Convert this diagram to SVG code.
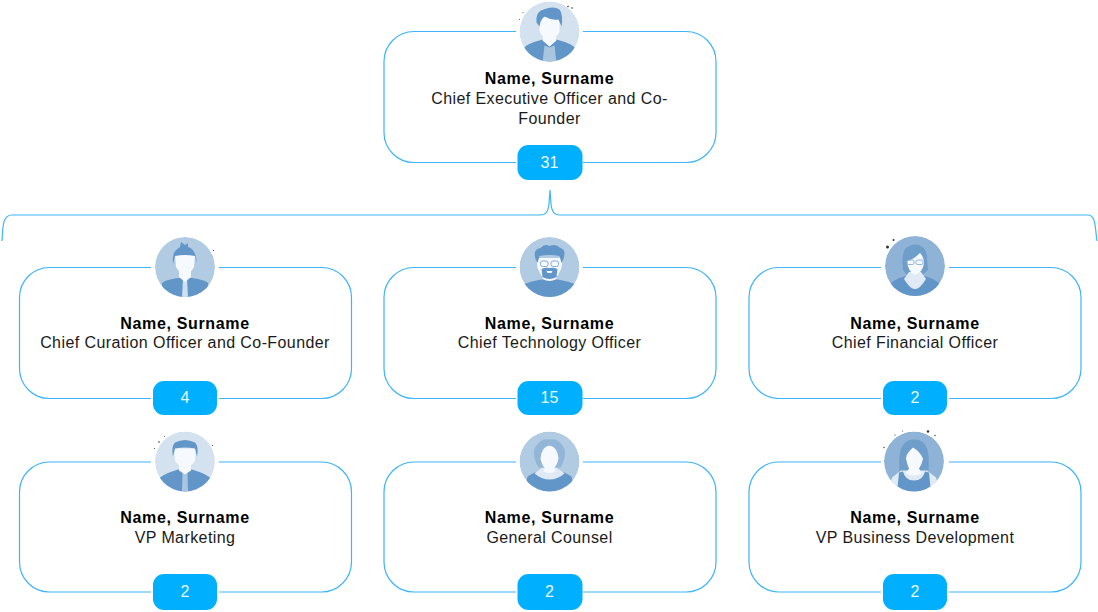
<svg xmlns="http://www.w3.org/2000/svg" width="1098" height="612" viewBox="0 0 1098 612">
<style>
.card{fill:#fff;stroke:#3db4fb;stroke-width:1.2}
.conn{fill:none;stroke:#3db4fb;stroke-width:1.2}
.pill{fill:#00b0ff}
.halo{fill:#fff}
text{font-family:"Liberation Sans",Arial,sans-serif;font-size:16px;text-anchor:middle;fill:#1a1a1a;letter-spacing:.41px}
.name{font-weight:700;fill:#000;letter-spacing:.65px}
.num{fill:#e8f7ff;letter-spacing:0}
.d{fill:#6296c8}
.s{fill:#dfeaf5}
.f{fill:#f6f9fd}
.sp{fill:#333}
</style>
<defs>
<clipPath id="cc"><circle r="30"/></clipPath>
</defs>
<g id="connectors">
<path class="conn" d="M2 241 C3 228 2 215 12 215 L540 215 C546 215 548 212 549 204 L550 190 L551 204 C552 212 554 215 560 215 L1088 215 C1096 215 1095 228 1097 241"/>
</g>
<g id="node-ceo">
<rect class="card" x="384" y="31.500" width="332" height="131" rx="30"/>
<rect class="halo" x="516" y="20" width="67" height="20"/>
<rect class="halo" x="516" y="155" width="67" height="15"/>
<g transform="translate(549.500 31.500)" clip-path="url(#cc)">
<circle r="30" fill="#d4e2f0"/>
<path class="d" d="M-26 31 L-25 16 Q-22 12 -7 8 L0 15 L7 8 Q22 12 25 16 L26 31Z"/>
<path d="M-5 14 L0 16 L5 14 L7 31 L-7 31Z" fill="#a9c5e0"/>
<path class="f" d="M-6 0 L6 0 L7 9 L0 15 L-7 9Z"/>
<path class="f" d="M-10 -14 L10 -14 L10 0 Q7 7 0 8 Q-7 7 -10 0Z"/>
<path class="d" d="M-13 -9 Q-14 -20 -6 -22 Q4 -26 10 -22 Q14 -17 12 -5 L9 -12 Q2 -11 -5 -15 Q-9 -12 -10 -5Z"/>
</g>
<circle class="sp" cx="572" cy="8" r=".8"/><circle class="sp" cx="568" cy="6.500" r=".8"/><circle class="sp" cx="523" cy="12.500" r=".5"/><circle class="sp" cx="519.500" cy="19.500" r=".5"/>
<text class="name" x="549.500" y="84">Name, Surname</text>
<text x="549.500" y="104">Chief Executive Officer and Co-</text>
<text x="549.500" y="123.500">Founder</text>
<rect class="pill" x="517.500" y="145" width="65" height="35" rx="11"/>
<text class="num" x="549.500" y="167.500">31</text>
</g>
<g id="node-curation">
<rect class="card" x="19.500" y="267.500" width="332" height="131" rx="30"/>
<rect class="halo" x="151" y="260" width="68" height="15"/>
<rect class="halo" x="151" y="390" width="68" height="15"/>
<g transform="translate(185 267)" clip-path="url(#cc)">
<circle r="30" fill="#b1cbe3"/>
<path class="d" d="M-25 31 L-23 16 Q-20 13 -7 11 L7 11 Q20 13 23 16 L25 31Z"/>
<path d="M-2 10 L2 10 L3 31 L-3 31Z" fill="#cfe0f0"/>
<path class="f" d="M-6 2 L6 2 L6 10 L0 15 L-6 10Z"/>
<path class="f" d="M-10 -12 L10 -12 L9 0 Q6 6 0 7 Q-6 6 -9 0Z"/>
<path class="d" d="M-12 -3 Q-13 -13 -9 -17 L-5 -20 L-4 -25 L0 -22 L3 -24 L3 -20 Q11 -18 12 -3 L10 -11 Q0 -13 -10 -11Z"/>
</g>
<circle class="sp" cx="213.500" cy="250.500" r=".6"/>
<text class="name" x="185" y="329">Name, Surname</text>
<text x="185" y="348">Chief Curation Officer and Co-Founder</text>
<rect class="pill" x="153" y="381" width="64" height="34" rx="11"/>
<text class="num" x="185" y="403">4</text>
</g>
<g id="node-cto">
<rect class="card" x="384" y="267.500" width="332" height="131" rx="30"/>
<rect class="halo" x="516" y="260" width="67" height="15"/>
<rect class="halo" x="516" y="390" width="67" height="15"/>
<g transform="translate(549.500 267)" clip-path="url(#cc)">
<circle r="30" fill="#b1cbe3"/>
<path class="d" d="M-26 31 L-25 17 Q-12 12 0 12 Q12 12 25 17 L26 31Z"/>
<path class="f" d="M-6 4 L6 4 L7 12 Q0 16 -7 12Z"/>
<path class="f" d="M-13 -9 L13 -9 L12 1 L8 9 L-8 9 L-12 1Z"/>
<path class="d" d="M-8 2 Q-4 0 0 1 Q4 0 8 2 L7 10 Q0 14 -7 10Z"/>
<path class="f" d="M-3 4 L3 4 L2 6 L-2 6Z"/>
<path class="d" d="M-14 -8 Q-17 -18 -9 -19 Q-5 -24 0 -21 Q6 -24 11 -19 Q17 -17 14 -8 L12 -4 L10 -11 Q0 -13 -10 -11 L-12 -4Z"/>
<g fill="none" stroke="#86add4" stroke-width="1"><rect x="-9" y="-6" width="7.500" height="5.500" rx="2"/><rect x="1.500" y="-6" width="7.500" height="5.500" rx="2"/></g>
</g>
<text class="name" x="549.500" y="329">Name, Surname</text>
<text x="549.500" y="348">Chief Technology Officer</text>
<rect class="pill" x="517.500" y="381" width="65" height="34" rx="11"/>
<text class="num" x="549.500" y="403">15</text>
</g>
<g id="node-cfo">
<rect class="card" x="749" y="267.500" width="332" height="131" rx="30"/>
<rect class="halo" x="881" y="260" width="68" height="15"/>
<rect class="halo" x="881" y="390" width="68" height="15"/>
<g transform="translate(915 266)" clip-path="url(#cc)">
<circle r="30" fill="#8fb3d7"/>
<path class="d" d="M-26 31 L-24 17 Q-18 12 -9 10 L9 10 Q18 12 24 17 L26 31Z"/>
<path d="M-12 4 Q-14 -10 -10 -17 Q-4 -23 4 -21 Q12 -18 12 -8 L13 4 L7 9 L-8 9Z" fill="#6f9ecb"/>
<path class="s" d="M-6 6 L6 6 L11 13 Q5 23 0 23 Q-5 23 -11 13Z"/>
<path class="f" d="M-8 -5 Q-2 -6 5 -13 Q9 -9 9 -3 Q8 6 0 9 Q-7 6 -8 -5Z"/>
<g fill="none" stroke="#86add4" stroke-width=".9"><rect x="-8" y="-6" width="7" height="4.500" rx="1.500"/><rect x="1" y="-6" width="7" height="4.500" rx="1.500"/></g>
</g>
<circle class="sp" cx="887.500" cy="247" r="1.500"/><circle class="sp" cx="893.500" cy="240" r="1"/>
<text class="name" x="915" y="329">Name, Surname</text>
<text x="915" y="348">Chief Financial Officer</text>
<rect class="pill" x="883" y="381" width="64" height="34" rx="11"/>
<text class="num" x="915" y="403">2</text>
</g>
<g id="node-marketing">
<rect class="card" x="19.500" y="462" width="332" height="130" rx="30"/>
<rect class="halo" x="151" y="455" width="68" height="15"/>
<rect class="halo" x="151" y="585" width="68" height="15"/>
<g transform="translate(185 461.500)" clip-path="url(#cc)">
<circle r="30" fill="#d4e2f0"/>
<path class="d" d="M-26 31 L-25 16 Q-18 11 -7 8 L7 8 Q18 11 25 16 L26 31Z"/>
<path d="M-2.500 11 L2.500 11 L3 31 L-3 31Z" fill="#a9c5e0"/>
<path class="f" d="M-6 0 L6 0 L6 9 L0 13 L-6 9Z"/>
<path class="f" d="M-11 -13 L11 -13 L10 -1 Q7 5 0 6 Q-7 5 -10 -1Z"/>
<path class="d" d="M-12 -5 Q-14 -15 -10 -19 Q0 -24 10 -19 Q14 -15 12 -5 L10 -13 Q0 -15 -10 -13Z"/>
</g>
<circle class="sp" cx="159" cy="442" r=".8"/><circle class="sp" cx="154.500" cy="448.500" r=".5"/><circle class="sp" cx="164.500" cy="436.500" r=".5"/><circle class="sp" cx="212.500" cy="445.500" r=".6"/>
<text class="name" x="185" y="523">Name, Surname</text>
<text x="185" y="542.500">VP Marketing</text>
<rect class="pill" x="153" y="574" width="64" height="36" rx="11"/>
<text class="num" x="185" y="597">2</text>
</g>
<g id="node-counsel">
<rect class="card" x="384" y="462" width="332" height="130" rx="30"/>
<rect class="halo" x="516" y="455" width="67" height="15"/>
<rect class="halo" x="516" y="585" width="67" height="15"/>
<g transform="translate(549.500 461.500)" clip-path="url(#cc)">
<circle r="30" fill="#b1cbe3"/>
<path class="d" d="M-26 31 L-22 15 L-15 11 L15 11 L22 15 L26 31Z"/>
<path class="s" d="M-7 6 L7 6 L15 12 Q8 18 0 18 Q-8 18 -15 12Z"/>
<path d="M-11 6 Q-17 -4 -15 -13 Q-9 -24 0 -22 Q9 -24 15 -13 Q17 -4 11 6Z" fill="#92b5d8"/>
<path class="f" d="M-9 -3 Q-8 -15 0 -16 Q8 -15 9 -3 Q8 3 5 6 L6 10 Q0 13 -6 10 L-5 6 Q-8 3 -9 -3Z"/>
</g>
<text class="name" x="549.500" y="523">Name, Surname</text>
<text x="549.500" y="542.500">General Counsel</text>
<rect class="pill" x="517.500" y="574" width="65" height="36" rx="11"/>
<text class="num" x="549.500" y="597">2</text>
</g>
<g id="node-bizdev">
<rect class="card" x="749" y="462" width="332" height="130" rx="30"/>
<rect class="halo" x="881" y="455" width="68" height="15"/>
<rect class="halo" x="881" y="585" width="68" height="15"/>
<g transform="translate(914 461.500)" clip-path="url(#cc)">
<circle r="30" fill="#8fb3d7"/>
<path d="M-14 14 Q-16 -5 -13 -13 Q-8 -23 0 -22 Q9 -23 13 -13 Q16 -5 14 14Z" fill="#6f9ecb"/>
<path class="s" d="M-22 16 L-13 9 L13 9 L22 16 L26 31 L-26 31Z"/>
<path class="d" d="M-15 11 L-11 10 Q-9 19 0 19 Q9 19 11 10 L15 11 L17 31 L-17 31Z"/>
<path class="f" d="M-8 -3 Q-8 -8 -1 -14 Q6 -10 9 -3 Q8 3 5 7 L8 12 Q0 16 -8 12 L-5 7 Q-7 3 -8 -3Z"/>
</g>
<circle class="sp" cx="928" cy="431.500" r="1.200"/><circle class="sp" cx="935" cy="435.500" r=".7"/><circle class="sp" cx="884" cy="447.500" r=".7"/><circle class="sp" cx="895" cy="435" r=".6"/><circle class="sp" cx="902.500" cy="431" r=".5"/>
<text class="name" x="915" y="523">Name, Surname</text>
<text x="915" y="542.500">VP Business Development</text>
<rect class="pill" x="883" y="574" width="64" height="36" rx="11"/>
<text class="num" x="915" y="597">2</text>
</g>
</svg>
